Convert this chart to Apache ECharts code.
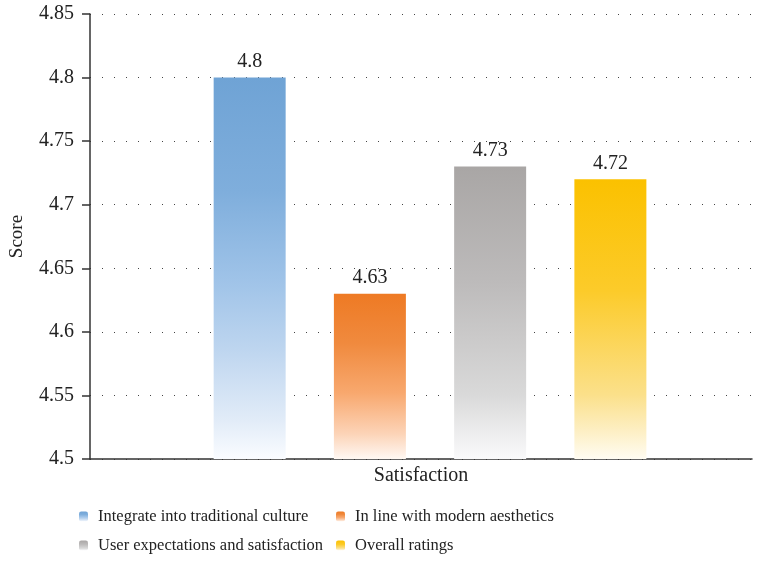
<!DOCTYPE html>
<html>
<head>
<meta charset="utf-8">
<script src="https://cdn.jsdelivr.net/npm/echarts@6/dist/echarts.min.js"></script>
<style>html,body{margin:0;padding:0;background:#fff;}#c{width:758px;height:563px;}</style>
</head>
<body>
<div id="c"></div>
<script>
const categories = ['Satisfaction'];
const seriesNames = ['Integrate into traditional culture', 'In line with modern aesthetics', 'User expectations and satisfaction', 'Overall ratings'];
const seriesValues = [[4.8], [4.63], [4.73], [4.72]];
const yTicks = { min: 4.5, max: 4.85, interval: 0.05 };

const FONT = '"Liberation Serif", "DejaVu Serif", serif';
const gradStops = [
  [[0, '#6FA3D5'], [0.3, '#7FAEDC'], [0.53, '#9FC3E8'], [0.71, '#BDD5EF'], [0.9, '#E2ECF8'], [1, '#FAFCFF']],
  [[0, '#EE7A24'], [0.3, '#F08A3E'], [0.6, '#F8A86E'], [0.85, '#FCD4B8'], [1, '#FFF8F3']],
  [[0, '#A9A6A5'], [0.4, '#BDBBBB'], [0.78, '#D9D9D9'], [0.9, '#EBEBEC'], [1, '#FAFAFB']],
  [[0, '#FBC100'], [0.4, '#FCCB2A'], [0.77, '#FBE08A'], [0.9, '#FDEFC4'], [1, '#FFFCF2']]
];
function grad(stops) {
  return new echarts.graphic.LinearGradient(0, 0, 0, 1, stops.map(s => ({ offset: s[0], color: s[1] })));
}

const series = [{
  name: '_spacer', type: 'bar', barWidth: 10.8, barGap: '67%', data: [null],
  itemStyle: { color: 'transparent' }, silent: true
}];
seriesNames.forEach((n, i) => {
  series.push({
    name: n, type: 'bar', barWidth: 72, barGap: '67%',
    data: seriesValues[i],
    itemStyle: { color: grad(gradStops[i]) },
    label: { show: true, position: 'top', distance: 6, color: '#222', fontFamily: FONT, fontSize: 20 }
  });
});

const legendPos = [[79, 508], [336, 508], [79, 537], [336, 537]];
const legends = seriesNames.map((n, i) => ({
  data: [n], left: legendPos[i][0], top: legendPos[i][1],
  itemWidth: 9, itemHeight: 10, itemGap: 0,
  textStyle: { fontFamily: FONT, fontSize: 16.5, color: '#222', padding: [0, 0, 0, 5] },
  padding: 0, selectedMode: false
}));

const chart = echarts.init(document.getElementById('c'), null, { renderer: 'canvas' });
chart.setOption({
  animation: false,
  backgroundColor: '#fff',
  legend: legends,
  grid: { left: 87, right: 6, top: 14, bottom: 104, containLabel: false },
  xAxis: {
    type: 'category', data: categories,
    axisLine: { lineStyle: { color: '#333', width: 1.5 } },
    axisTick: { show: false },
    axisLabel: { fontFamily: FONT, fontSize: 20, color: '#222', margin: 7 }
  },
  yAxis: {
    type: 'value', min: yTicks.min, max: yTicks.max, interval: yTicks.interval,
    name: 'Score', nameLocation: 'middle', nameGap: 63,
    nameTextStyle: { fontFamily: FONT, fontSize: 19, color: '#222' },
    axisLine: { show: true, lineStyle: { color: '#333', width: 1.5 } },
    axisTick: { show: true, length: 8, lineStyle: { color: '#333', width: 1.5 } },
    axisLabel: { fontFamily: FONT, fontSize: 20, color: '#222', margin: 16 },
    splitLine: { show: true, lineStyle: { color: '#444', width: 1, type: [1, 11] } }
  },
  series: series
});
</script>
</body>
</html>
